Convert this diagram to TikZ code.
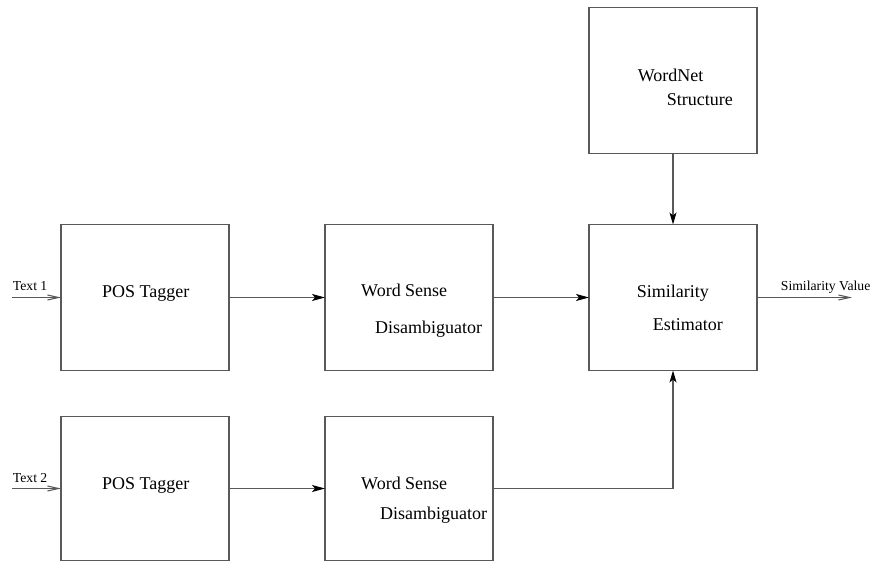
\documentclass[tikz,border=0pt]{standalone}
\usepackage{fontspec}
\setmainfont{Liberation Serif}
\usetikzlibrary{arrows.meta}

\begin{document}
\begin{tikzpicture}[x=1pt, y=-1pt]
        \useasboundingbox (0,0) rectangle (877,561);
        \begin{scope}[every node/.style={rectangle,draw=black!65,line width=1.1pt,minimum width=168pt,minimum height=146pt,inner sep=0pt,outer sep=0pt}]
            \node (wordnet) at (673, 80.5) {};
            \node (pos1) at (145, 297.5) {};
            \node (wsd1) at (409, 297.5) {};
            \node (sim) at (673, 297.5) {};
            \node (pos2) [minimum height=144pt] at (145, 488.5) {};
            \node (wsd2) [minimum height=144pt] at (409, 488.5) {};
        \end{scope}
        \begin{scope}[every node/.style={anchor=base west,inner sep=0pt,font=\fontsize{18}{20}\selectfont}]
            \node (wordnetA) at (637.7, 81.7) {WordNet};
            \node (wordnetB) at (666.7, 105.7) {Structure};
            \node (pos1txt) at (102, 297) {POS Tagger};
            \node (wsd1A) at (361, 296) {Word Sense};
            \node (wsd1B) at (375, 333) {Disambiguator};
            \node (simA) at (636.7, 297.7) {Similarity};
            \node (simB) at (652.7, 330) {Estimator};
            \node (pos2txt) at (102, 489) {POS Tagger};
            \node (wsd2A) at (361, 489.3) {Word Sense};
            \node (wsd2B) at (380, 519) {Disambiguator};
        \end{scope}
        \begin{scope}[every node/.style={anchor=base west,inner sep=0pt,font=\fontsize{13.7}{15}\selectfont}]
            \node (text1) at (12.7, 290.5) {Text 1};
            \node (text2) at (12.7, 482.7) {Text 2};
            \node (simval) at (780.7, 290) {Similarity Value};
        \end{scope}
        \coordinate (src1) at (12, 297.5);
        \coordinate (src2) at (12, 488.5);
        \coordinate (sink) at (852, 297.5);

        \begin{scope}[every edge/.style={draw=black!65,line width=1.1pt}]
            \path [-{Straight Barb[length=11pt,width=5pt]}] (src1) edge (pos1.west);
            \path [-{Straight Barb[length=11pt,width=5pt]}] (src2) edge (pos2.west);
            \path [-{Straight Barb[length=11pt,width=5pt]}] (sim.east) edge (sink);
            \path [-{Stealth[length=13pt,width=7pt,inset=3pt,black]}] (pos1) edge (wsd1);
            \path [-{Stealth[length=13pt,width=7pt,inset=3pt,black]}] (wsd1) edge (sim);
            \path [-{Stealth[length=13pt,width=7pt,inset=3pt,black]}] (pos2) edge (wsd2);
            \path [-{Stealth[length=12pt,width=7pt,inset=3pt,black]}] (wordnet) edge (sim);
        \end{scope}
        \draw [draw=black!65, line width=1.1pt, -{Stealth[length=12pt,width=7pt,inset=3pt,black]}] (wsd2.east) -| (sim.south);
    \end{tikzpicture}
\end{document}
